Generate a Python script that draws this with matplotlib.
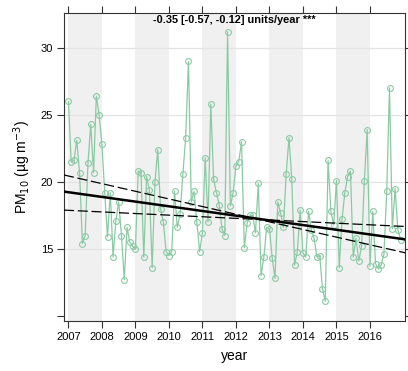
import numpy as np
import matplotlib
matplotlib.use("Agg")
import matplotlib.pyplot as plt

plt.rcParams["font.family"] = ["Liberation Sans", "DejaVu Sans"]

# Monthly mean PM10, Jan 2007 - Dec 2016
START_YEAR = 2007
pm10 = [
    26.0, 21.5, 21.6, 23.1, 20.7, 15.4, 16.0, 21.4, 24.3, 20.7, 26.4, 25.0,
    22.8, 19.2, 15.9, 19.2, 14.4, 17.1, 18.5, 16.0, 12.7, 16.6, 15.5, 15.2,
    15.0, 20.8, 20.7, 14.4, 20.4, 19.4, 13.6, 20.0, 22.4, 18.0, 17.0, 14.8,
    14.5, 14.8, 19.3, 16.6, 17.6, 20.6, 23.3, 29.0, 18.5, 19.3, 17.0, 14.8,
    16.2, 21.8, 17.0, 25.8, 20.2, 19.2, 18.3, 16.5, 16.0, 31.2, 18.2, 19.2,
    21.2, 21.5, 23.0, 15.1, 16.9, 17.5, 17.5, 16.2, 19.9, 13.0, 14.4, 16.6,
    16.5, 14.3, 12.8, 18.5, 17.7, 16.6, 20.6, 23.3, 20.2, 13.8, 14.8, 17.9,
    14.7, 14.4, 17.8, 16.4, 15.8, 14.4, 14.5, 12.0, 11.1, 21.6, 17.8, 16.8,
    20.1, 13.6, 17.2, 19.2, 20.4, 20.8, 14.4, 15.8, 14.1, 15.2, 20.1, 23.9,
    13.7, 17.8, 13.9, 13.5, 13.8, 14.6, 19.3, 27.0, 16.5, 19.5, 16.4, 15.7,
]

# Theil-Sen slope and 95% interval (units/year), with the level at 2012.0
slope = -0.35
slope_lower = -0.57
slope_upper = -0.12
level_mid = 17.48
level_lower = 17.59
level_upper = 17.28
year_mid = 2012.0

years = list(range(2007, 2017))
ytick_vals = [10, 15, 20, 25, 30]
ytick_labels = ["", "15", "20", "25", "30"]

LINE_COL = "#8acaa3"

t = START_YEAR + np.arange(len(pm10)) / 12.0

fig = plt.figure(figsize=(4.08, 3.71), dpi=100)
ax = fig.add_axes([0.157, 0.135, 0.836, 0.830])

xlim = (2006.87, 2017.05)
ax.set_xlim(xlim)
ax.set_ylim(9.63, 32.6)

# alternating year shading
for y in years[::2]:
    ax.axvspan(y, y + 1, color="#f0f0f0", lw=0, zorder=0)

for v in ytick_vals[1:]:
    ax.axhline(v, color="#e4e4e4", lw=0.9, zorder=0.5)

ax.plot(t, pm10, color=LINE_COL, lw=0.9, marker="o", ms=4.2,
        mfc="none", mec=LINE_COL, mew=0.8, zorder=2)

xx = np.array(xlim)
ax.plot(xx, level_mid + slope * (xx - year_mid), color="black", lw=1.8, zorder=3)
ax.plot(xx, level_lower + slope_lower * (xx - year_mid), color="black", lw=0.9,
        ls=(0, (8, 3)), zorder=3)
ax.plot(xx, level_upper + slope_upper * (xx - year_mid), color="black", lw=0.9,
        ls=(0, (8, 3)), zorder=3)

ax.text(0.5, 0.995, f"{slope:.2f} [{slope_lower:.2f}, {slope_upper:.2f}] units/year ***",
        transform=ax.transAxes, ha="center", va="top", fontsize=7.9,
        fontweight="bold")

ax.set_xticks(years)
ax.set_xticklabels([str(y) for y in years])
ax.set_yticks(ytick_vals)
ax.set_yticklabels(ytick_labels)
ax.tick_params(direction="out", length=4.8, width=0.8, colors="#333333",
               labelcolor="black", labelsize=8, top=True, right=True, pad=3)
ax.tick_params(axis="y", labelright=False)
ax.tick_params(axis="x", labeltop=False)
for s in ax.spines.values():
    s.set_color("#333333")
    s.set_linewidth(0.8)

ax.set_xlabel("year", fontsize=10, labelpad=5)
ax.set_ylabel("PM$_{10}$ (\u00b5g m$^{-3}$)", fontsize=10, labelpad=6)

plt.savefig("out.png", dpi=100)
